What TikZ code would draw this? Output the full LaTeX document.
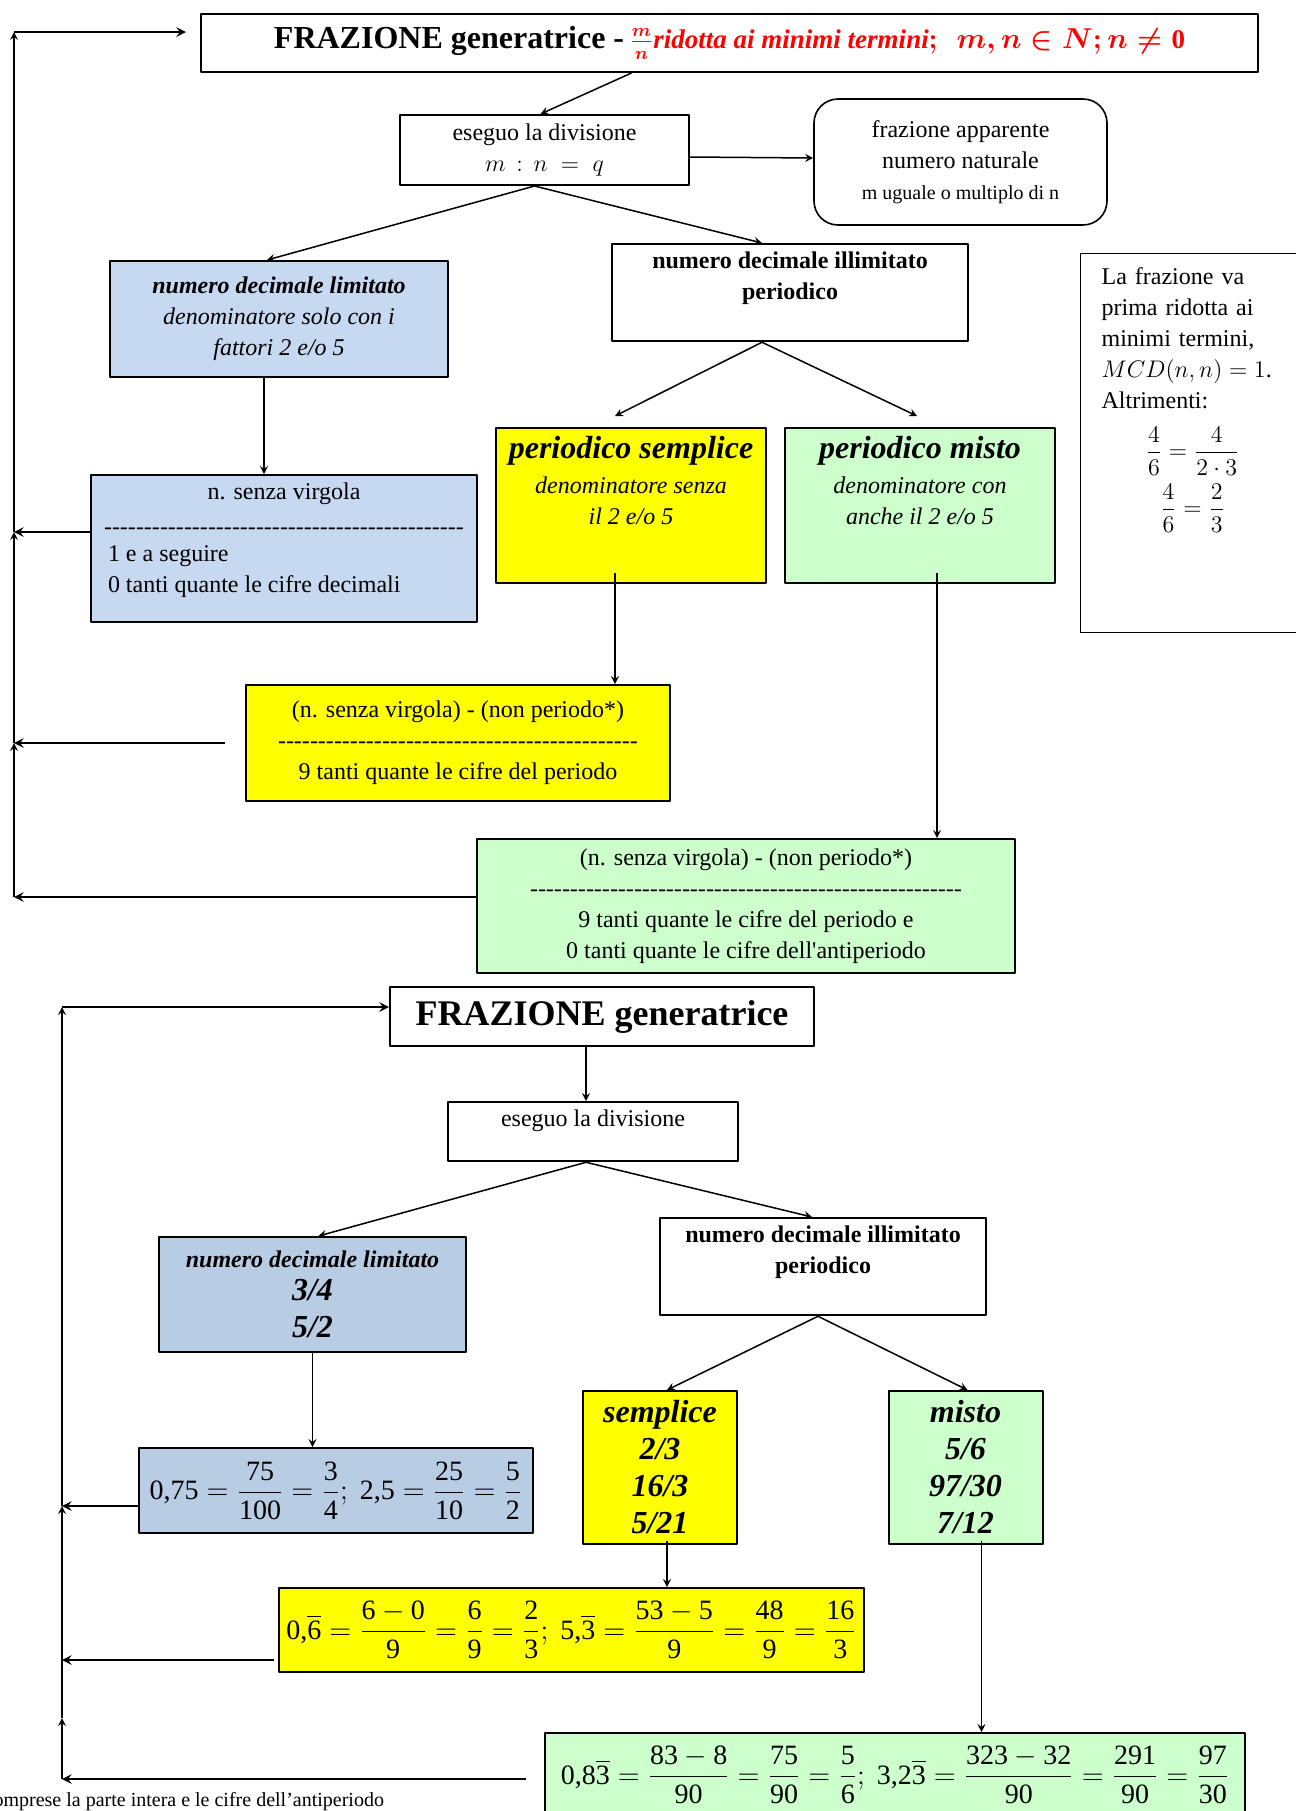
\documentclass[tikz,border=0pt]{standalone}
\usepackage{amsmath}
\usepackage{fontspec}
\setmainfont{Liberation Serif}
\definecolor{azzurro}{HTML}{C6D9F1}
\definecolor{azzurroscuro}{HTML}{B8CCE4}
\definecolor{giallo}{HTML}{FFFF00}
\definecolor{verde}{HTML}{CCFFCC}
\newcommand{\trattini}[1]{\hbox to #1{\xleaders\hbox{-}\hfill}}
\newcommand{\cif}[1]{\text{#1}}

\begin{document}
\begin{tikzpicture}[x=0.5pt, y=-0.5pt, font=\fontsize{12}{15.5}\selectfont, line join=round, >=stealth,
	box/.style={draw, line width=1pt, align=center, inner sep=4pt},
	formula/.style={box, inner sep=1pt, font=\fontsize{14}{17}\selectfont},
	freccia/.style={->, line width=0.75pt},
	ritorno/.style={->, line width=1.1pt}]
	\useasboundingbox (0,0) rectangle (1296,1811);
	% prima parte
	\node[box, minimum width=528.5pt, minimum height=29pt, font=\fontsize{16}{19}\selectfont\bfseries] (fraz) at (729.5,43) {FRAZIONE generatrice -\,{\color{red}\fontsize{13.5}{16}\selectfont\boldmath$\frac{m}{n}\mathit{ridotta\ ai\ minimi\ termini};\ \ m,n\in N;n\neq \text{0}$}};
	\node[box, minimum width=144.5pt, minimum height=35pt, inner sep=1pt] (div) at (544.5,150) {eseguo la divisione\\$m\,:\,n\;=\;q$};
	\node[box, line width=0.8pt, rounded corners=12pt, minimum width=146.5pt, minimum height=63pt] (app) at (960.5,162) {frazione apparente\\numero naturale\\{\fontsize{10}{12}\selectfont m uguale o multiplo di n}};
	\node[box, fill=azzurro, minimum width=169pt, minimum height=58pt] (lim) at (279,319) {\textbf{\textit{numero decimale limitato}}\\\textit{denominatore solo con i}\\\textit{fattori 2 e/o 5}};
	\node[box, anchor=north, minimum width=178pt] (ill) at (790,243) {\textbf{numero decimale illimitato}\\\textbf{periodico}\\[1.3pt]\mbox{}};
	\node[box, anchor=north, fill=giallo, minimum width=135pt] (sem) at (631,427) {{\fontsize{16}{19}\selectfont\bfseries\itshape periodico semplice}\\[2pt]\textit{denominatore senza}\\\textit{il 2 e/o 5}\\[10pt]\mbox{}};
	\node[box, anchor=north, fill=verde, minimum width=135pt] (mis) at (920,427) {{\fontsize{16}{19}\selectfont\bfseries\itshape periodico misto}\\[2pt]\textit{denominatore con}\\\textit{anche il 2 e/o 5}\\[10pt]\mbox{}};
	\node[box, anchor=north, fill=azzurro, inner xsep=5.5pt] (nsv) at (284,474) {n. senza virgola\\[2pt]\trattini{180pt}\\[-2pt]\makebox[182pt][l]{\hspace{3pt}1 e a seguire}\\\makebox[182pt][l]{\hspace{3pt}0 tanti quante le cifre decimali}\\[-4.7pt]\mbox{}};
	\node[box, fill=giallo, minimum width=212pt, minimum height=58pt] (yel) at (458,743) {(n. senza virgola) - (non periodo*)\\\trattini{180pt}\\9 tanti quante le cifre del periodo};
	\node[box, fill=verde, minimum width=269pt, minimum height=67pt] (grn) at (746,906) {(n. senza virgola) - (non periodo*)\\\trattini{216pt}\\9 tanti quante le cifre del periodo e\\0 tanti quante le cifre dell\textquotesingle antiperiodo};
	\node[draw, line width=0.6pt, anchor=north west, text width=91pt, align=left, inner xsep=10.5pt, inner ysep=7pt] (nota) at (1080,253) {La frazione va\\prima ridotta ai\\minimi termini,\\$MCD(n,n)=1$.\\Altrimenti:\\[8pt]\makebox[91pt]{$\dfrac{4}{6}=\dfrac{4}{2\cdot3}$}\\[3.5pt]\makebox[91pt]{$\dfrac{4}{6}=\dfrac{2}{3}$}\\[36pt]\mbox{}};

	\draw[freccia] ([xshift=-49pt]fraz.south) -- ([xshift=-2pt]div.north);
	\draw[freccia] ([yshift=-3.5pt]div.east) -- ([yshift=2pt]app.west);
	\draw[freccia] ([xshift=-5pt]div.south) -- ([xshift=-6pt]lim.north);
	\draw[freccia] ([xshift=-5pt]div.south) -- ([xshift=-14pt]ill.north);
	\draw[freccia] ([xshift=-14pt]ill.south) -- ([xshift=-8pt,yshift=5.5pt]sem.north);
	\draw[freccia] ([xshift=-14pt]ill.south) -- ([xshift=-1.5pt,yshift=5.5pt]mis.north);
	\draw[freccia] ([xshift=-7.5pt]lim.south) -- ([xshift=-7.5pt]lim.south |- nsv.north);
	\draw[freccia] ([xshift=-8pt,yshift=5.5pt]sem.south) -- ([xshift=-8pt]sem.south |- yel.north);
	\draw[freccia] ([xshift=8.5pt,yshift=5.5pt]mis.south) -- ([xshift=8.5pt]mis.south |- grn.north);

	\coordinate (s0) at (14,32);
	\coordinate (s1) at (14,532);
	\coordinate (s2) at (14,743);
	\coordinate (s3) at (14,897);
	\draw[ritorno] (nsv.west |- s1) -- (s1);
	\draw[ritorno] ([xshift=-10pt]yel.west) -- (s2);
	\draw[ritorno] (grn.west |- s3) -- (s3);
	\draw[freccia] (s3) -- (s2);
	\draw[freccia] (s2) -- (s1);
	\draw[freccia] (s1) -- (s0);
	\draw[ritorno, shorten >=7pt] (s0) -- (fraz.west |- s0);

	% seconda parte
	\node[box, minimum width=212pt, minimum height=29.5pt, font=\fontsize{18}{21}\selectfont\bfseries] (fraz2) at (602,1016.5) {FRAZIONE generatrice};
	\node[box, anchor=north, minimum width=145pt] (div2) at (593,1101) {eseguo la divisione\\[-2.2pt]\mbox{}};
	\node[box, fill=azzurroscuro, minimum width=153.5pt, minimum height=57.5pt, font=\fontsize{16}{18.5}\selectfont\bfseries\itshape] (lim2) at (312.5,1294.5) {{\fontsize{12}{15}\selectfont numero decimale limitato}\\[-2pt]3/4\\5/2};
	\node[box, anchor=north, minimum width=163pt] (ill2) at (823,1217) {\textbf{numero decimale illimitato}\\\textbf{periodico}\\[1.3pt]\mbox{}};
	\node[box, fill=giallo, minimum width=77pt, minimum height=76.5pt, inner sep=2pt, font=\fontsize{16}{18.5}\selectfont\bfseries\itshape] (sem2) at (660,1467.5) {semplice\\2/3\\16/3\\5/21};
	\node[box, fill=verde, minimum width=77pt, minimum height=76.5pt, inner sep=2pt, font=\fontsize{16}{18.5}\selectfont\bfseries\itshape] (mis2) at (965.5,1467.5) {misto\\5/6\\97/30\\7/12};
	\node[formula, fill=azzurroscuro, minimum width=197pt, minimum height=42.5pt] (fbl) at (336,1490.5) {$\displaystyle \cif{0,75}=\frac{\cif{75}}{\cif{100}}=\frac{\cif{3}}{\cif{4}};\ \cif{2,5}=\frac{\cif{25}}{\cif{10}}=\frac{\cif{5}}{\cif{2}}$};
	\node[formula, fill=giallo, minimum width=292.5pt, minimum height=42pt] (fye) at (571.5,1630) {$\displaystyle \cif{0,}\overline{\cif{6}}=\frac{\cif{6}-\cif{0}}{\cif{9}}=\frac{\cif{6}}{\cif{9}}=\frac{\cif{2}}{\cif{3}};\ \cif{5,}\overline{\cif{3}}=\frac{\cif{53}-\cif{5}}{\cif{9}}=\frac{\cif{48}}{\cif{9}}=\frac{\cif{16}}{\cif{3}}$};
	\node[formula, fill=verde, anchor=north, minimum width=350pt, minimum height=42pt] (fgr) at (895,1732) {$\displaystyle \cif{0,8}\overline{\cif{3}}=\frac{\cif{83}-\cif{8}}{\cif{90}}=\frac{\cif{75}}{\cif{90}}=\frac{\cif{5}}{\cif{6}};\ \cif{3,2}\overline{\cif{3}}=\frac{\cif{323}-\cif{32}}{\cif{90}}=\frac{\cif{291}}{\cif{90}}=\frac{\cif{97}}{\cif{30}}$};
	\node[anchor=east, font=\fontsize{10}{12}\selectfont] (asterisco) at (391,1802) {comprese la parte intera e le cifre dell’antiperiodo};

	\draw[freccia] ([xshift=-8pt]fraz2.south) -- ([xshift=-8pt]fraz2.south |- div2.north);
	\draw[freccia] ([xshift=-3.5pt]div2.south) -- ([xshift=3pt]lim2.north);
	\draw[freccia] ([xshift=-3.5pt]div2.south) -- ([xshift=-5.5pt]ill2.north);
	\draw[freccia] ([xshift=-2.5pt]ill2.south) -- ([xshift=3.5pt]sem2.north);
	\draw[freccia] ([xshift=-2.5pt]ill2.south) -- ([xshift=1pt]mis2.north);
	\draw[freccia] (lim2.south) -- (lim2.south |- fbl.north);
	\draw[freccia] ([xshift=3.5pt,yshift=2pt]sem2.south) -- ([xshift=3.5pt]sem2.south |- fye.north);
	\draw[freccia] ([xshift=8pt,yshift=2pt]mis2.south) -- ([xshift=8pt]mis2.south |- fgr.north);

	\coordinate (t0) at (62,1007);
	\coordinate (t1) at (62,1506);
	\coordinate (t2) at (62,1660);
	\coordinate (t3) at (62,1718);
	\coordinate (t4) at (62,1779);
	\draw[ritorno] (fbl.west |- t1) -- (t1);
	\draw[ritorno] ([xshift=-2pt]fye.west |- t2) -- (t2);
	\draw[ritorno] ([xshift=-9pt]fgr.west |- t4) -- (t4);
	\draw[freccia] (t4) -- (t3);
	\draw[freccia] (t3) -- (t1);
	\draw[freccia] (t1) -- (t0);
	\draw[ritorno] (t0) -- (fraz2.west |- t0);
\end{tikzpicture}
\end{document}
